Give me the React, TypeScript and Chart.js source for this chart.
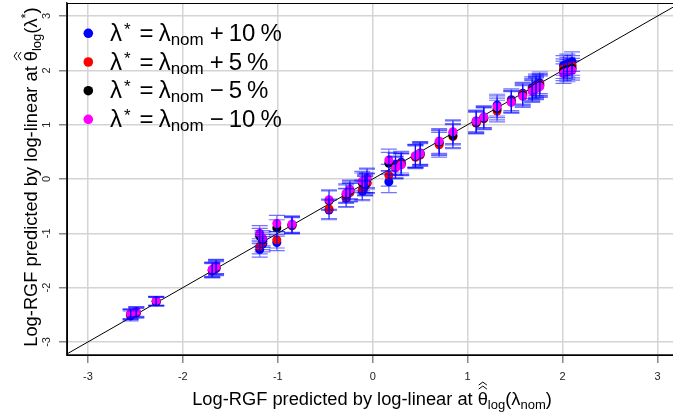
import { useEffect, useRef } from "react";
import { Chart, registerables } from "chart.js";
Chart.register(...registerables);

// nominal predictions (x) and predictions at perturbed lambda (y)
const xNominal = [-2.55, -2.49, -2.28, -1.69, -1.65, -1.19, -1.16, -1.01, -0.85, -0.46, -0.28, -0.24, -0.11, -0.08, -0.06, 0.17, 0.24, 0.3, 0.45, 0.5, 0.7, 0.845, 1.09, 1.17, 1.31, 1.46, 1.58, 1.68, 1.72, 1.76, 2.01, 2.05, 2.1];
const yPlus10 = [-2.52, -2.47, -2.26, -1.69, -1.65, -1.3, -1.2, -1.17, -0.86, -0.57, -0.35, -0.25, -0.22, -0.13, -0.08, -0.05, 0.27, 0.31, 0.42, 0.48, 0.66, 0.85, 1.07, 1.14, 1.36, 1.46, 1.58, 1.68, 1.73, 1.77, 2.09, 2.12, 2.16];
const yPlus5 = [-2.5, -2.46, -2.25, -1.68, -1.63, -1.24, -1.16, -1.12, -0.85, -0.55, -0.34, -0.24, -0.2, -0.12, -0.07, 0.07, 0.22, 0.28, 0.4, 0.44, 0.63, 0.78, 1.03, 1.11, 1.25, 1.43, 1.56, 1.65, 1.7, 1.74, 2.03, 2.06, 2.09];
const yMinus5 = [-2.49, -2.45, -2.25, -1.67, -1.62, -1.05, -1.12, -0.9, -0.84, -0.4, -0.28, -0.21, -0.07, -0.1, 0.0, 0.29, 0.21, 0.27, 0.42, 0.46, 0.68, 0.8, 1.04, 1.12, 1.29, 1.42, 1.54, 1.63, 1.68, 1.72, 1.99, 2.02, 2.04];
const yMinus10 = [-2.48, -2.44, -2.24, -1.66, -1.61, -1.0, -1.09, -0.82, -0.83, -0.38, -0.26, -0.19, -0.04, -0.07, 0.02, 0.35, 0.2, 0.26, 0.43, 0.47, 0.7, 0.87, 1.06, 1.14, 1.33, 1.41, 1.52, 1.61, 1.66, 1.7, 1.94, 1.97, 2.0];
const errHalfWidth = [0.09, 0.09, 0.08, 0.13, 0.13, 0.14, 0.14, 0.15, 0.15, 0.18, 0.17, 0.17, 0.18, 0.18, 0.18, 0.2, 0.2, 0.2, 0.21, 0.21, 0.23, 0.22, 0.2, 0.2, 0.2, 0.2, 0.2, 0.2, 0.2, 0.2, 0.18, 0.18, 0.18];

const tickValues = [-3, -2, -1, 0, 1, 2, 3];
const lineEnds = [-5, 5];
const seriesSign = ["+", "+", "\u2212", "\u2212"];
const seriesPct = ["10", "5", "5", "10"];
const seriesColors = ["#0000ff", "#ff0000", "#000000", "#ff00ff"];
const seriesValues = [yPlus10, yPlus5, yMinus5, yMinus10];

const FONT = '"Liberation Sans", Arial, Helvetica, sans-serif';

type Seg = { t: string; s: number; dy?: number; hat?: boolean; gap?: number };

function measure(ctx: CanvasRenderingContext2D, segs: Seg[]) {
  let w = 0;
  for (const g of segs) {
    ctx.font = `${g.s}px ${FONT}`;
    w += ctx.measureText(g.t).width + (g.gap || 0);
  }
  return w;
}

function drawSegs(ctx: CanvasRenderingContext2D, segs: Seg[], x: number, y: number) {
  let cx = x;
  for (const g of segs) {
    cx += g.gap || 0;
    ctx.font = `${g.s}px ${FONT}`;
    const w = ctx.measureText(g.t).width;
    ctx.fillText(g.t, cx, y + (g.dy || 0));
    if (g.hat) {
      const top = y - g.s * 0.76;
      ctx.save();
      ctx.lineWidth = 1;
      ctx.strokeStyle = ctx.fillStyle as string;
      for (let k = 0; k < 2; k++) {
        const b = top - 2 - k * 4;
        ctx.beginPath();
        ctx.moveTo(cx + 1, b);
        ctx.lineTo(cx + w / 2, b - 3);
        ctx.lineTo(cx + w - 1, b);
        ctx.stroke();
      }
      ctx.restore();
    }
    cx += w;
  }
}

const titleBase: Seg[] = [
  { t: "Log-RGF predicted by log-linear at ", s: 18.3 },
  { t: "\u03b8", s: 18.3, hat: true },
  { t: "log", s: 13, dy: 4 },
];
const xTitle: Seg[] = [...titleBase, { t: "(\u03bb", s: 18.3 }, { t: "nom", s: 13, dy: 4 }, { t: ")", s: 18.3 }];
const yTitle: Seg[] = [...titleBase, { t: "(\u03bb", s: 18.3 }, { t: "*", s: 13, dy: -7 }, { t: ")", s: 18.3 }];

const decorPlugin = {
  id: "decor",
  afterDatasetsDraw(chart: any) {
    const ctx: CanvasRenderingContext2D = chart.ctx;
    const xs = chart.scales.x;
    const ys = chart.scales.y;
    const ca = chart.chartArea;
    // error bars
    ctx.save();
    ctx.beginPath();
    ctx.rect(ca.left, ca.top, ca.right - ca.left, ca.bottom - ca.top);
    ctx.clip();
    ctx.strokeStyle = "rgba(0,0,255,0.55)";
    ctx.lineWidth = 1.2;
    const cap = 8;
    seriesValues.forEach((vals) => {
      vals.forEach((v, i) => {
        const px = xs.getPixelForValue(xNominal[i]);
        const lo = ys.getPixelForValue(v - errHalfWidth[i]);
        const hi = ys.getPixelForValue(v + errHalfWidth[i]);
        ctx.beginPath();
        ctx.moveTo(px, lo);
        ctx.lineTo(px, hi);
        ctx.moveTo(px - cap, lo);
        ctx.lineTo(px + cap, lo);
        ctx.moveTo(px - cap, hi);
        ctx.lineTo(px + cap, hi);
        ctx.stroke();
      });
    });
    ctx.restore();

    // frame
    ctx.save();
    ctx.strokeStyle = "#000";
    ctx.lineWidth = 1;
    ctx.strokeRect(ca.left + 0.5, ca.top + 0.5, ca.right - ca.left, ca.bottom - ca.top);
    ctx.restore();

    // legend
    ctx.save();
    ctx.textBaseline = "alphabetic";
    seriesSign.forEach((sign, k) => {
      const cy = 33.3 + k * 28.7;
      ctx.beginPath();
      ctx.fillStyle = seriesColors[k];
      ctx.arc(88.3, cy, 4.8, 0, Math.PI * 2);
      ctx.fill();
      ctx.fillStyle = "#000";
      const segs: Seg[] = [
        { t: "\u03bb", s: 24 },
        { t: "*", s: 17, dy: -6, gap: 2 },
        { t: "=", s: 24, gap: 9 },
        { t: "\u03bb", s: 24, gap: 5 },
        { t: "nom", s: 17, dy: 4 },
        { t: sign, s: 24, gap: 6 },
        { t: seriesPct[k], s: 24, gap: 5 },
        { t: "%", s: 24, gap: 5 },
      ];
      drawSegs(ctx, segs, 110, cy + 7.5);
    });
    ctx.restore();

    // y tick labels (rotated)
    ctx.save();
    ctx.fillStyle = "#222";
    ctx.font = `11px ${FONT}`;
    ctx.textAlign = "center";
    ctx.textBaseline = "middle";
    tickValues.forEach((v) => {
      const py = ys.getPixelForValue(v);
      ctx.save();
      ctx.translate(47, py);
      ctx.rotate(-Math.PI / 2);
      ctx.fillText(String(v), 0, 0);
      ctx.restore();
    });
    ctx.restore();

    // axis titles
    ctx.save();
    ctx.fillStyle = "#000";
    ctx.textBaseline = "alphabetic";
    ctx.textAlign = "left";
    const xw = measure(ctx, xTitle);
    drawSegs(ctx, xTitle, 372 - xw / 2, 405);
    const yw = measure(ctx, yTitle);
    const yc = (ca.top + ca.bottom) / 2 - 2;
    ctx.translate(37, yc);
    ctx.rotate(-Math.PI / 2);
    drawSegs(ctx, yTitle, -yw / 2, 0);
    ctx.restore();
  },
};

export default function App() {
  const ref = useRef<HTMLCanvasElement>(null);
  useEffect(() => {
    document.body.style.margin = "0";
    const canvas = ref.current!;
    const datasets: any[] = seriesValues.map((vals, k) => ({
      label: `${seriesSign[k]} ${seriesPct[k]} %`,
      data: xNominal.map((x, i) => ({ x, y: vals[i] })),
      backgroundColor: seriesColors[k],
      pointBackgroundColor: seriesColors[k],
      pointBorderWidth: 0,
      borderWidth: 0,
      pointRadius: 4.5,
      order: 4 - k,
    }));
    datasets.push({
      label: "y = x",
      data: lineEnds.map((v) => ({ x: v, y: v })),
      showLine: true,
      borderColor: "#000",
      borderWidth: 1,
      pointRadius: 0,
      order: 10,
    });
    const chart = new Chart(canvas, {
      type: "scatter",
      data: { datasets },
      plugins: [decorPlugin],
      options: {
        animation: false,
        responsive: false,
        layout: { autoPadding: false, padding: { top: 3, right: 0, left: 0, bottom: 0 } },
        plugins: { legend: { display: false }, tooltip: { enabled: false } },
        scales: {
          x: {
            type: "linear",
            min: -3.22,
            max: 3.163,
            afterBuildTicks: (s: any) => {
              s.ticks = tickValues.map((v) => ({ value: v }));
            },
            afterFit: (s: any) => {
              s.height = 64;
              s.paddingRight = 0;
              s.paddingLeft = 0;
            },
            grid: { color: "#d4d4d4", lineWidth: 1.5, tickLength: 8, tickColor: "#888", tickWidth: 1.5 },
            border: { display: true, color: "#444", width: 2 },
            ticks: { font: { size: 11, family: FONT }, color: "#222", padding: 7, maxRotation: 0, minRotation: 0 },
          },
          y: {
            type: "linear",
            min: -3.24,
            max: 3.24,
            afterBuildTicks: (s: any) => {
              s.ticks = tickValues.map((v) => ({ value: v }));
            },
            afterFit: (s: any) => {
              s.width = 67;
              s.paddingTop = 0;
              s.paddingBottom = 0;
            },
            grid: { color: "#d4d4d4", lineWidth: 1.5, tickLength: 8, tickColor: "#888", tickWidth: 1.5 },
            border: { display: true, color: "#222", width: 1.5 },
            ticks: { display: false },
          },
        },
      } as any,
    });
    return () => chart.destroy();
  }, []);
  return <canvas ref={ref} width={673} height={419} style={{ display: "block" }} />;
}
